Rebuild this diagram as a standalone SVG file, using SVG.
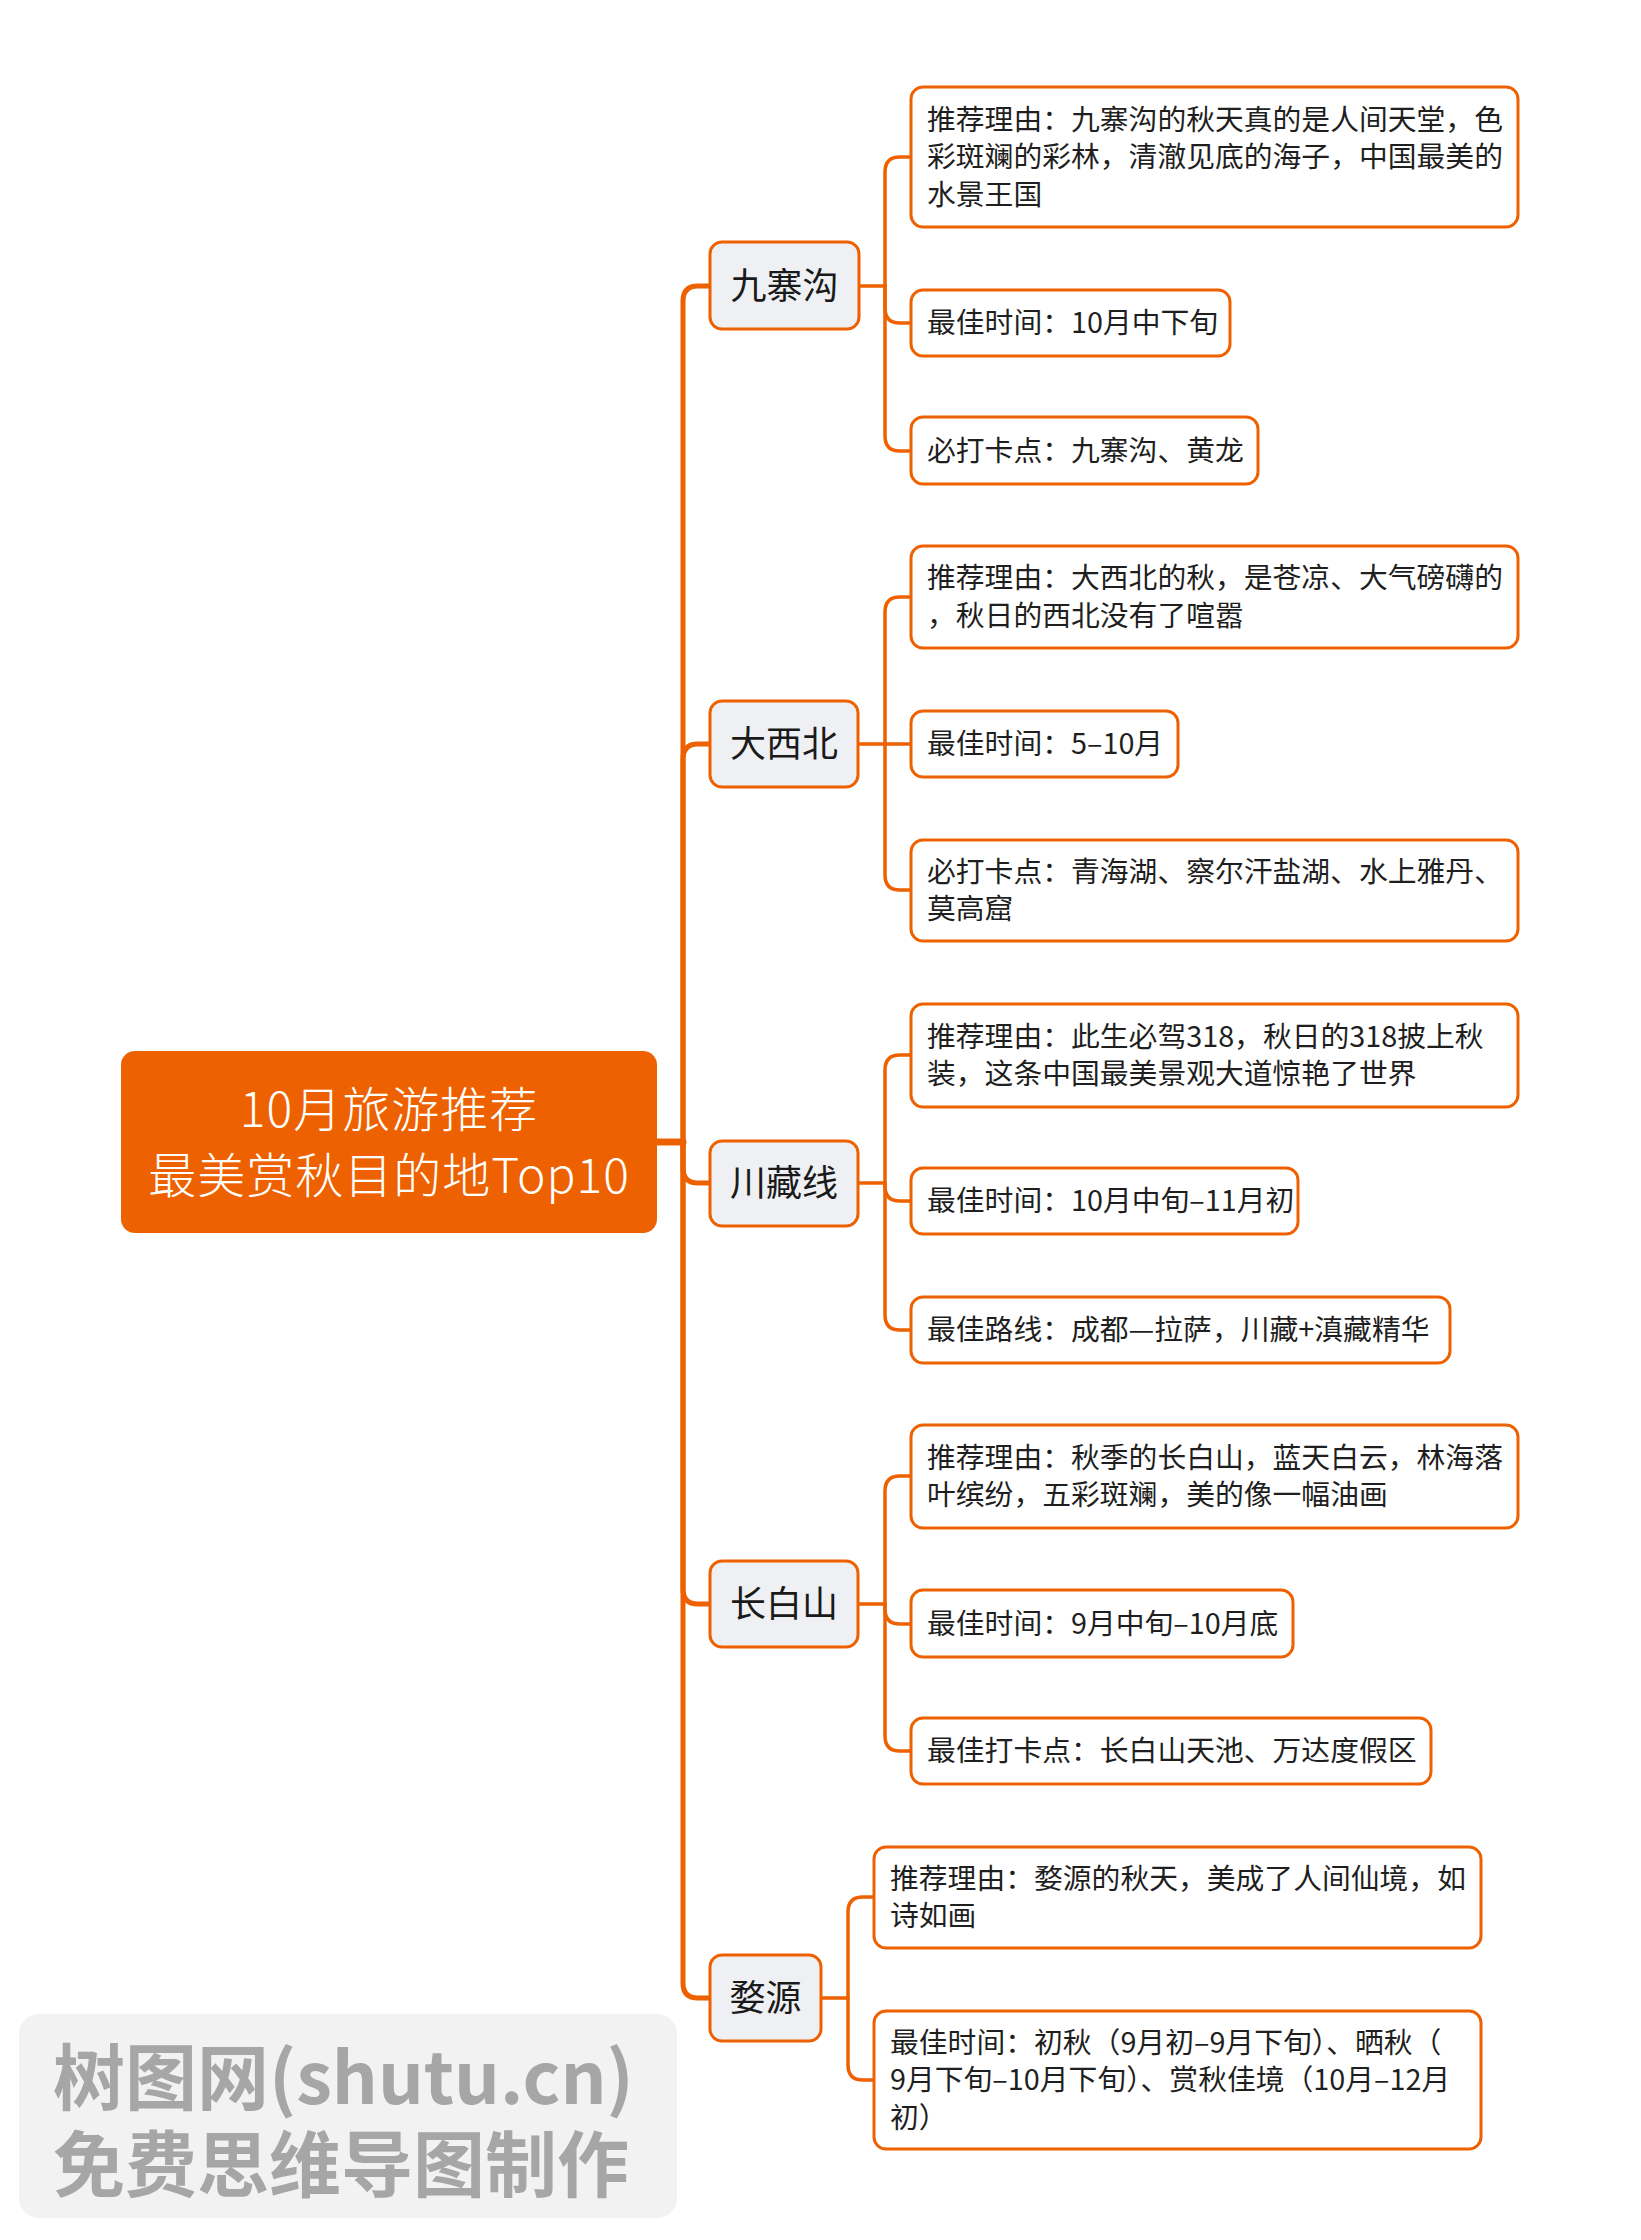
<svg xmlns="http://www.w3.org/2000/svg" width="1641" height="2240" viewBox="0 0 1641 2240">
<style>
.c{fill:none;stroke:#EE6100;stroke-linecap:round;stroke-linejoin:round}
.tr{stroke-width:5}
.sb{stroke-width:3.5}
.rt{font-family:"Noto Sans CJK SC","Noto Sans",sans-serif;font-size:48px;font-weight:300;fill:#FFFFFF;text-anchor:middle;letter-spacing:1px}
.wm{font-family:"Noto Sans CJK SC","Noto Sans",sans-serif;font-size:72px;font-weight:bold;fill:#A6A6A6}
.l1 rect{fill:#EEF0F3;stroke:#EE6100;stroke-width:3}
.l1 text{font-family:"Noto Sans CJK SC","Noto Sans",sans-serif;font-size:36px;fill:#1a1a1a;text-anchor:middle}
.l2 rect{fill:#FFFFFF;stroke:#EE6100;stroke-width:3}
.l2 text{font-family:"Noto Sans CJK SC","Noto Sans",sans-serif;font-size:28.8px;fill:#1f1f1f}
</style>
<rect width="1641" height="2240" fill="#FFFFFF"/>
<g id="connectors">
<path class="c" d="M657,1142 H683" stroke-width="7"/>
<path class="c tr" d="M683,1142 V301 Q683,286 698,286 H710"/>
<path class="c tr" d="M683,1142 V759 Q683,744 698,744 H710"/>
<path class="c tr" d="M683,1142 V1168 Q683,1183 698,1183 H710"/>
<path class="c tr" d="M683,1142 V1589 Q683,1604 698,1604 H710"/>
<path class="c tr" d="M683,1142 V1983 Q683,1998 698,1998 H710"/>
<path class="c sb" d="M859,286 H885"/>
<path class="c sb" d="M885,286 V172 Q885,157 900,157 H911"/>
<path class="c sb" d="M885,286 V308 Q885,323 900,323 H911"/>
<path class="c sb" d="M885,286 V436 Q885,451 900,451 H911"/>
<path class="c sb" d="M858,744 H911"/>
<path class="c sb" d="M885,744 V612 Q885,597 900,597 H911"/>
<path class="c sb" d="M885,744 V875 Q885,890 900,890 H911"/>
<path class="c sb" d="M858,1183 H885"/>
<path class="c sb" d="M885,1183 V1070 Q885,1055 900,1055 H911"/>
<path class="c sb" d="M885,1183 V1186 Q885,1201 900,1201 H911"/>
<path class="c sb" d="M885,1183 V1315 Q885,1330 900,1330 H911"/>
<path class="c sb" d="M858,1604 H885"/>
<path class="c sb" d="M885,1604 V1491 Q885,1476 900,1476 H911"/>
<path class="c sb" d="M885,1604 V1609 Q885,1624 900,1624 H911"/>
<path class="c sb" d="M885,1604 V1736 Q885,1751 900,1751 H911"/>
<path class="c sb" d="M821,1998 H848"/>
<path class="c sb" d="M848,1998 V1912 Q848,1897 863,1897 H874"/>
<path class="c sb" d="M848,1998 V2065 Q848,2080 863,2080 H874"/>
</g>
<g id="root">
<rect x="121" y="1051" width="536" height="182" rx="14" fill="#EE6100"/>
<text class="rt" x="389" y="1127">10月旅游推荐</text>
<text class="rt" x="389" y="1193">最美赏秋目的地Top10</text>
</g>
<g id="n-jiuzhaigou" class="l1"><rect x="710" y="242" width="149" height="87" rx="12"/><text x="784.5" y="299">九寨沟</text></g>
<g id="n-daxibei" class="l1"><rect x="710" y="701" width="148" height="86" rx="12"/><text x="784" y="757">大西北</text></g>
<g id="n-chuanzang" class="l1"><rect x="710" y="1141" width="148" height="85" rx="12"/><text x="784" y="1196">川藏线</text></g>
<g id="n-changbaishan" class="l1"><rect x="710" y="1561" width="148" height="86" rx="12"/><text x="784" y="1617">长白山</text></g>
<g id="n-wuyuan" class="l1"><rect x="710" y="1955" width="111" height="86" rx="12"/><text x="765.5" y="2011">婺源</text></g>
<g id="n-jzg-1" class="l2"><rect x="911" y="87" width="607" height="140" rx="12"/>
<text x="927" y="130">推荐理由：九寨沟的秋天真的是人间天堂，色</text>
<text x="927" y="167">彩斑斓的彩林，清澈见底的海子，中国最美的</text>
<text x="927" y="205">水景王国</text></g>
<g id="n-jzg-2" class="l2"><rect x="911" y="290" width="319" height="66" rx="12"/><text x="927" y="333">最佳时间：10月中下旬</text></g>
<g id="n-jzg-3" class="l2"><rect x="911" y="417" width="347" height="67" rx="12"/><text x="927" y="461">必打卡点：九寨沟、黄龙</text></g>
<g id="n-dxb-1" class="l2"><rect x="911" y="546" width="607" height="102" rx="12"/>
<text x="927" y="588">推荐理由：大西北的秋，是苍凉、大气磅礴的</text>
<text x="927" y="626">，秋日的西北没有了喧嚣</text></g>
<g id="n-dxb-2" class="l2"><rect x="911" y="711" width="267" height="66" rx="12"/><text x="927" y="754">最佳时间：5–10月</text></g>
<g id="n-dxb-3" class="l2"><rect x="911" y="840" width="607" height="101" rx="12"/>
<text x="927" y="882">必打卡点：青海湖、察尔汗盐湖、水上雅丹、</text>
<text x="927" y="919">莫高窟</text></g>
<g id="n-czx-1" class="l2"><rect x="911" y="1004" width="607" height="103" rx="12"/>
<text x="927" y="1047">推荐理由：此生必驾318，秋日的318披上秋</text>
<text x="927" y="1084">装，这条中国最美景观大道惊艳了世界</text></g>
<g id="n-czx-2" class="l2"><rect x="911" y="1168" width="387" height="66" rx="12"/><text x="927" y="1211">最佳时间：10月中旬–11月初</text></g>
<g id="n-czx-3" class="l2"><rect x="911" y="1297" width="539" height="66" rx="12"/><text x="927" y="1340">最佳路线：成都—拉萨，川藏+滇藏精华</text></g>
<g id="n-cbs-1" class="l2"><rect x="911" y="1425" width="607" height="103" rx="12"/>
<text x="927" y="1468">推荐理由：秋季的长白山，蓝天白云，林海落</text>
<text x="927" y="1505">叶缤纷，五彩斑斓，美的像一幅油画</text></g>
<g id="n-cbs-2" class="l2"><rect x="911" y="1590" width="382" height="67" rx="12"/><text x="927" y="1634">最佳时间：9月中旬–10月底</text></g>
<g id="n-cbs-3" class="l2"><rect x="911" y="1718" width="520" height="66" rx="12"/><text x="927" y="1761">最佳打卡点：长白山天池、万达度假区</text></g>
<g id="n-wy-1" class="l2"><rect x="874" y="1847" width="607" height="101" rx="12"/>
<text x="890" y="1889">推荐理由：婺源的秋天，美成了人间仙境，如</text>
<text x="890" y="1926">诗如画</text></g>
<g id="n-wy-2" class="l2"><rect x="874" y="2011" width="607" height="138" rx="12"/>
<text x="890" y="2053">最佳时间：初秋（9月初–9月下旬）、晒秋（</text>
<text x="890" y="2090">9月下旬–10月下旬）、赏秋佳境（10月–12月</text>
<text x="890" y="2128">初）</text></g>
<g id="watermark">
<rect x="19" y="2014" width="658" height="204" rx="20" fill="#F2F2F2"/>
<text class="wm" x="53" y="2104">树图网(shutu.cn)</text>
<text class="wm" x="53" y="2191">免费思维导图制作</text>
</g>
</svg>
